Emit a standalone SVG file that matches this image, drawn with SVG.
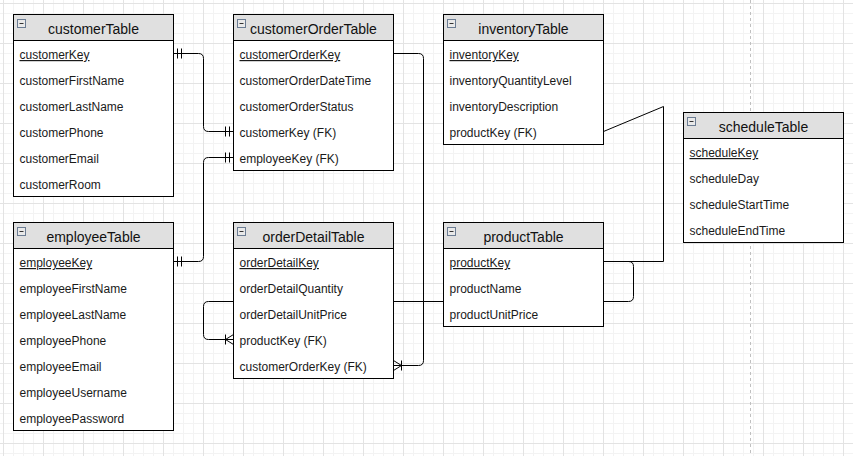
<svg xmlns="http://www.w3.org/2000/svg" width="853" height="456" viewBox="0 0 853 456">
  <style>
    .tbl { fill: #ffffff; stroke: #000000; stroke-width: 1; }
    .hdr { fill: #e0e0e0; stroke: #000000; stroke-width: 1; }
    .title { font-family: "Liberation Sans", Arial, sans-serif; font-size: 14px; fill: #111111; text-anchor: middle; }
    .row { font-family: "Liberation Sans", Arial, sans-serif; font-size: 12px; fill: #1a1a1a; }
    .pk { text-decoration: underline; }
    .icon { fill: #e9e9e9; stroke: #6b7c93; stroke-width: 1; }
    .minus { stroke: #333333; stroke-width: 1; }
    .edge { fill: none; stroke: #000000; stroke-width: 1; }
  </style>
  <defs>
    <pattern id="grid" patternUnits="userSpaceOnUse" x="3" y="3" width="40" height="40">
      <rect x="0" y="0" width="40" height="40" fill="#ffffff"/>
      <g fill="#f3f3f3">
        <rect x="10" y="0" width="1" height="40"/>
        <rect x="20" y="0" width="1" height="40"/>
        <rect x="30" y="0" width="1" height="40"/>
        <rect x="0" y="10" width="40" height="1"/>
        <rect x="0" y="20" width="40" height="1"/>
        <rect x="0" y="30" width="40" height="1"/>
      </g>
      <g fill="#e3e3e3">
        <rect x="0" y="0" width="1" height="40"/>
        <rect x="0" y="0" width="40" height="1"/>
      </g>
    </pattern>
    <!-- mandatory one: two bars before the end point -->
    <marker id="mandOne" markerUnits="userSpaceOnUse" viewBox="0 0 12 12" markerWidth="12" markerHeight="12" refX="12" refY="6" orient="auto-start-reverse">
      <path d="M4,1 V11 M8,1 V11" fill="none" stroke="#000" stroke-width="1"/>
    </marker>
    <!-- one to many: bar plus crow's foot opening toward the entity -->
    <marker id="oneMany" markerUnits="userSpaceOnUse" viewBox="0 0 12 12" markerWidth="12" markerHeight="12" refX="12" refY="6" orient="auto-start-reverse">
      <path d="M4,1 V11 M4,6 L12,1 M4,6 L12,11" fill="none" stroke="#000" stroke-width="1"/>
    </marker>
  </defs>

  <!-- background grid -->
  <rect x="0" y="0" width="853" height="456" fill="url(#grid)"/>
  <!-- page boundary -->
  <line x1="750.5" y1="0" x2="750.5" y2="456" stroke="#c0c0c0" stroke-width="1" stroke-dasharray="3 3"/>

  <!-- relationships -->
  <g id="connectors">
    <path class="edge" d="M173.5,53.5 H198.5 Q203.5,53.5 203.5,58.5 V126.5 Q203.5,131.5 208.5,131.5 H233.5" marker-start="url(#mandOne)" marker-end="url(#mandOne)"/>
    <path class="edge" d="M173.5,261.5 H198.5 Q203.5,261.5 203.5,256.5 V162.5 Q203.5,157.5 208.5,157.5 H233.5" marker-start="url(#mandOne)" marker-end="url(#mandOne)"/>
    <path class="edge" d="M603.5,261.5 H628.5 Q633.5,261.5 633.5,266.5 V296.5 Q633.5,301.5 628.5,301.5 H208.5 Q203.5,301.5 203.5,306.5 V334.5 Q203.5,339.5 208.5,339.5 H233.5" marker-end="url(#oneMany)"/>
    <path class="edge" d="M393.5,53.5 H418.5 Q423.5,53.5 423.5,58.5 V360.5 Q423.5,365.5 418.5,365.5 H393.5" marker-end="url(#oneMany)"/>
    <path class="edge" d="M603.5,131.5 L663.5,106.5 V261.5 H603.5"/>
  </g>

  <g id="customerTable" transform="translate(13.5,14.5)">
    <rect class="tbl" x="0" y="0" width="160" height="182"/>
    <rect class="hdr" x="0" y="0" width="160" height="26"/>
    <rect class="icon" x="4" y="5" width="8" height="8"/><line class="minus" x1="6" y1="9" x2="10" y2="9"/>
    <text class="title" x="80" y="19.5">customerTable</text>
    <text class="row pk" x="6" y="44.5">customerKey</text>
    <text class="row" x="6" y="70.5">customerFirstName</text>
    <text class="row" x="6" y="96.5">customerLastName</text>
    <text class="row" x="6" y="122.5">customerPhone</text>
    <text class="row" x="6" y="148.5">customerEmail</text>
    <text class="row" x="6" y="174.5">customerRoom</text>
  </g>

  <g id="customerOrderTable" transform="translate(233.5,14.5)">
    <rect class="tbl" x="0" y="0" width="160" height="156"/>
    <rect class="hdr" x="0" y="0" width="160" height="26"/>
    <rect class="icon" x="4" y="5" width="8" height="8"/><line class="minus" x1="6" y1="9" x2="10" y2="9"/>
    <text class="title" x="80" y="19.5">customerOrderTable</text>
    <text class="row pk" x="6" y="44.5">customerOrderKey</text>
    <text class="row" x="6" y="70.5">customerOrderDateTime</text>
    <text class="row" x="6" y="96.5">customerOrderStatus</text>
    <text class="row" x="6" y="122.5">customerKey (FK)</text>
    <text class="row" x="6" y="148.5">employeeKey (FK)</text>
  </g>

  <g id="inventoryTable" transform="translate(443.5,14.5)">
    <rect class="tbl" x="0" y="0" width="160" height="130"/>
    <rect class="hdr" x="0" y="0" width="160" height="26"/>
    <rect class="icon" x="4" y="5" width="8" height="8"/><line class="minus" x1="6" y1="9" x2="10" y2="9"/>
    <text class="title" x="80" y="19.5">inventoryTable</text>
    <text class="row pk" x="6" y="44.5">inventoryKey</text>
    <text class="row" x="6" y="70.5">inventoryQuantityLevel</text>
    <text class="row" x="6" y="96.5">inventoryDescription</text>
    <text class="row" x="6" y="122.5">productKey (FK)</text>
  </g>

  <g id="scheduleTable" transform="translate(683.5,112.5)">
    <rect class="tbl" x="0" y="0" width="160" height="130"/>
    <rect class="hdr" x="0" y="0" width="160" height="26"/>
    <rect class="icon" x="4" y="5" width="8" height="8"/><line class="minus" x1="6" y1="9" x2="10" y2="9"/>
    <text class="title" x="80" y="19.5">scheduleTable</text>
    <text class="row pk" x="6" y="44.5">scheduleKey</text>
    <text class="row" x="6" y="70.5">scheduleDay</text>
    <text class="row" x="6" y="96.5">scheduleStartTime</text>
    <text class="row" x="6" y="122.5">scheduleEndTime</text>
  </g>

  <g id="employeeTable" transform="translate(13.5,222.5)">
    <rect class="tbl" x="0" y="0" width="160" height="208"/>
    <rect class="hdr" x="0" y="0" width="160" height="26"/>
    <rect class="icon" x="4" y="5" width="8" height="8"/><line class="minus" x1="6" y1="9" x2="10" y2="9"/>
    <text class="title" x="80" y="19.5">employeeTable</text>
    <text class="row pk" x="6" y="44.5">employeeKey</text>
    <text class="row" x="6" y="70.5">employeeFirstName</text>
    <text class="row" x="6" y="96.5">employeeLastName</text>
    <text class="row" x="6" y="122.5">employeePhone</text>
    <text class="row" x="6" y="148.5">employeeEmail</text>
    <text class="row" x="6" y="174.5">employeeUsername</text>
    <text class="row" x="6" y="200.5">employeePassword</text>
  </g>

  <g id="orderDetailTable" transform="translate(233.5,222.5)">
    <rect class="tbl" x="0" y="0" width="160" height="156"/>
    <rect class="hdr" x="0" y="0" width="160" height="26"/>
    <rect class="icon" x="4" y="5" width="8" height="8"/><line class="minus" x1="6" y1="9" x2="10" y2="9"/>
    <text class="title" x="80" y="19.5">orderDetailTable</text>
    <text class="row pk" x="6" y="44.5">orderDetailKey</text>
    <text class="row" x="6" y="70.5">orderDetailQuantity</text>
    <text class="row" x="6" y="96.5">orderDetailUnitPrice</text>
    <text class="row" x="6" y="122.5">productKey (FK)</text>
    <text class="row" x="6" y="148.5">customerOrderKey (FK)</text>
  </g>

  <g id="productTable" transform="translate(443.5,222.5)">
    <rect class="tbl" x="0" y="0" width="160" height="104"/>
    <rect class="hdr" x="0" y="0" width="160" height="26"/>
    <rect class="icon" x="4" y="5" width="8" height="8"/><line class="minus" x1="6" y1="9" x2="10" y2="9"/>
    <text class="title" x="80" y="19.5">productTable</text>
    <text class="row pk" x="6" y="44.5">productKey</text>
    <text class="row" x="6" y="70.5">productName</text>
    <text class="row" x="6" y="96.5">productUnitPrice</text>
  </g>
</svg>
